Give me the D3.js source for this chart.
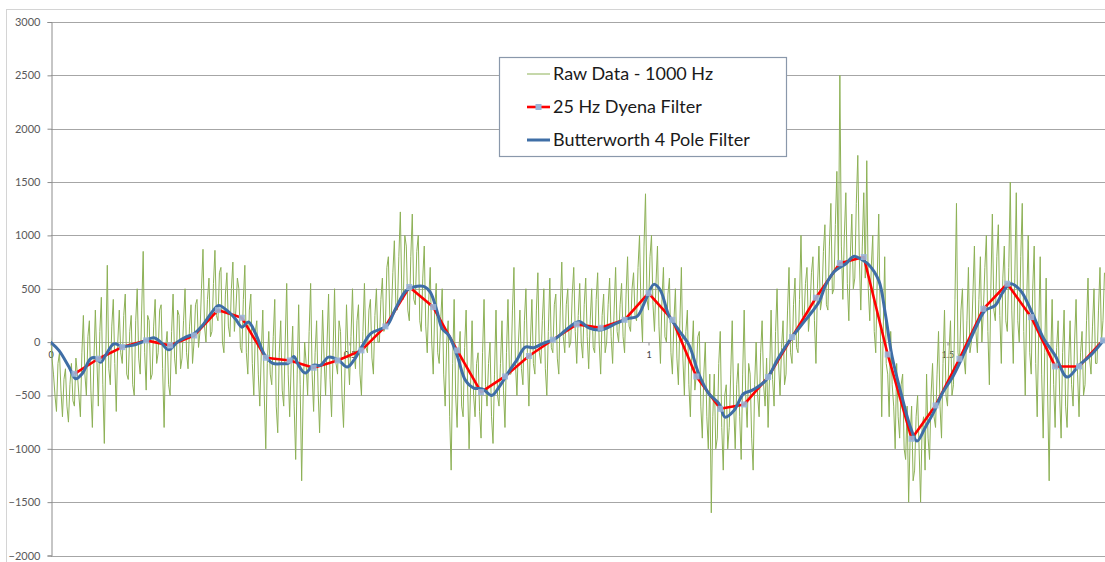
<!DOCTYPE html>
<html><head><meta charset="utf-8">
<script src="https://cdn.jsdelivr.net/npm/d3@7"></script>
<style>
html,body{margin:0;padding:0;background:#fff;}
svg{display:block;}
</style></head>
<body>
<svg id="chart" width="1105" height="562"></svg>
<script>
// ---- data ----
const yTicks = [-2000,-1500,-1000,-500,0,500,1000,1500,2000,2500,3000];
const xTicks = [0, 0.5, 1, 1.5];
const xTickLabels = ["0","0.5","1","1.5"];
const seriesNames = ["Raw Data - 1000 Hz","25 Hz Dyena Filter","Butterworth 4 Pole Filter"];

// raw samples, one every 2.5 ms starting at t = 0
const rawStep = 0.0025;
const rawValues = [
 50,-150,-300,-500,-650,-200,-100,-450,-700,-350,-250,-600,-750,-400,-200,-550,-600,-150,-300,-500,
 -700,-100,250,-300,-500,50,200,-450,-800,-200,300,-150,-600,100,420,-400,-950,-100,720,-250,
 -400,150,400,-200,-650,0,300,-100,-200,250,450,-300,-350,100,250,-400,-500,200,500,-150,
 -300,300,850,-100,-450,250,200,-350,-300,150,400,-200,-100,300,350,-250,-800,-50,100,-400,
 -500,100,450,-150,-300,300,250,-250,-150,200,500,-100,-250,150,350,-200,0,350,400,-50,
 100,500,870,150,0,400,600,50,100,550,860,250,200,650,700,0,-100,450,650,150,
 50,500,750,100,300,600,500,-50,-100,400,720,-100,-300,300,450,-200,-500,100,200,-300,
 -600,-100,300,-500,-1000,-200,100,-300,-400,50,400,-600,-850,-100,200,-450,-600,0,550,-300,
 -700,-200,150,-600,-1100,-300,350,-400,-1300,-500,0,-200,-500,100,550,-300,-650,-100,200,-450,
 -850,-300,300,-150,-500,0,450,-350,-700,-100,500,-200,-300,200,100,-500,-800,-250,350,-100,
 -400,50,500,-100,-250,200,350,-300,-500,100,550,-50,-100,300,400,-150,-300,250,500,0,
 0,400,600,100,150,700,800,200,250,650,950,350,300,800,1220,450,400,1000,900,300,
 200,800,1200,400,350,850,1000,200,100,600,900,150,-100,400,700,0,-300,300,550,-100,
 -200,200,500,-300,-600,0,200,-700,-1200,-200,400,-500,-800,-100,100,-600,-700,-50,300,-400,
 -1000,-400,200,-500,-700,-200,-100,-650,-900,-100,400,-400,-600,-200,0,-700,-950,-300,300,-500,
 -600,-200,200,-450,-800,-100,400,-300,-300,300,700,-200,-500,0,300,-250,-400,200,500,-100,
 -600,0,400,-200,-300,300,650,-100,-200,200,500,-250,-500,100,600,-50,-100,350,450,-150,
 -300,300,750,50,-100,350,500,-50,0,450,700,100,-200,250,550,0,-150,350,600,50,
 -250,200,500,-50,-100,400,650,0,-300,250,450,-100,0,350,600,50,-200,300,700,100,
 0,350,550,50,-100,450,800,150,100,500,650,250,200,700,1000,300,0,900,1390,400,
 300,800,1000,350,100,550,900,150,-200,400,700,50,0,450,600,-100,-300,200,500,-150,
 -400,200,700,-150,-500,100,300,-400,-700,-100,200,-450,-300,50,100,-600,-900,-300,0,-700,
 -1000,-300,-1600,-700,-300,-1000,-900,-200,100,-800,-1200,-500,-400,-1000,-800,-300,200,-600,-1000,-400,
 -200,-700,-1100,-300,300,-500,-800,-200,-300,-900,-1200,-400,0,-500,-700,-100,200,-400,-600,-150,
 -800,-300,300,-350,-600,100,500,-200,-500,-50,200,-400,-300,300,700,-100,-200,350,600,-50,
 -100,400,1000,250,200,550,700,100,300,650,800,200,-200,500,900,300,400,850,1100,350,
 300,900,1300,450,500,1100,1600,700,2500,900,400,1000,1400,550,200,800,1200,500,600,1300,
 1750,800,300,900,1400,600,1700,500,200,700,1000,100,-100,600,1200,200,-700,100,800,-200,
 -300,-700,100,-400,-600,-1000,-200,-700,-900,-400,-300,-1000,-1100,-600,-1500,-900,-600,-1300,-1200,-700,
 -500,-1000,-1500,-800,-700,-1200,-300,-900,-1100,-500,-200,-700,-800,-300,100,-600,-900,-200,300,-500,
 -600,-100,200,-500,-400,400,1300,-100,-200,300,500,-150,-300,200,700,-100,0,450,900,100,
 -100,400,800,0,300,700,1000,100,-400,500,1200,300,200,800,1100,250,-200,600,900,200,
 100,700,1500,300,-200,600,1400,200,0,800,1300,100,-500,400,1000,-100,-300,500,900,-200,
 -700,100,800,-300,-900,-100,600,-500,-1300,-200,400,-400,-800,-50,200,-500,-900,-100,300,-600,
 -800,-200,200,-400,-600,0,400,-300,-700,-100,100,-500,-400,200,600,-150,-300,150,500,-200,
 -200,300,700,0,200,650
];

const dyenaTimes = [0.04,0.08,0.12,0.16,0.20,0.24,0.28,0.32,0.36,0.40,0.44,0.48,0.52,0.56,0.60,0.64,0.68,0.72,0.76,0.80,0.84,0.88,0.92,0.96,1.00,1.04,1.08,1.12,1.16,1.20,1.24,1.28,1.32,1.36,1.40,1.44,1.48,1.52,1.56,1.60,1.64,1.68,1.72,1.76];
const dyenaValues = [-297,-156,-47,16,-31,62,300,228,-147,-172,-240,-172,-78,147,516,328,-78,-469,-322,-130,22,166,134,209,459,209,-322,-625,-584,-328,47,416,740,797,-116,-906,-594,-156,312,547,234,-228,-228,16];

const butterTimes = [0,0.014,0.031,0.042,0.053,0.067,0.075,0.084,0.092,0.106,0.12,0.137,0.153,0.173,0.184,0.198,0.212,0.226,0.24,0.254,0.27,0.281,0.295,0.309,0.32,0.331,0.343,0.357,0.371,0.387,0.398,0.407,0.415,0.426,0.44,0.451,0.465,0.482,0.496,0.507,0.521,0.535,0.549,0.563,0.577,0.594,0.607,0.624,0.635,0.646,0.655,0.666,0.68,0.694,0.708,0.722,0.738,0.75,0.766,0.78,0.794,0.808,0.822,0.844,0.861,0.884,0.9,0.922,0.945,0.964,0.981,0.995,1.009,1.02,1.034,1.051,1.068,1.084,1.101,1.118,1.128,1.143,1.159,1.173,1.196,1.218,1.24,1.262,1.285,1.296,1.31,1.321,1.33,1.343,1.357,1.368,1.385,1.396,1.407,1.424,1.438,1.449,1.463,1.477,1.491,1.51,1.53,1.549,1.563,1.58,1.591,1.605,1.622,1.641,1.661,1.68,1.7,1.72,1.742,1.761];
const butterValues = [0,-78,-234,-344,-297,-156,-147,-188,-125,-16,-40,-31,0,40,0,-72,0,47,78,156,281,344,297,219,140,188,78,-109,-197,-203,-197,-134,-219,-290,-215,-219,-141,-172,-234,-172,-40,78,116,156,313,478,516,522,469,297,125,63,-125,-359,-431,-438,-500,-422,-281,-166,-47,-53,-16,31,109,194,134,116,172,219,241,391,541,484,250,109,-31,-297,-484,-578,-703,-641,-484,-453,-359,-141,47,203,375,531,656,703,734,803,772,728,578,266,-125,-516,-797,-928,-797,-656,-484,-313,-78,156,297,344,453,547,484,281,31,-125,-328,-219,-109,16];

// ---- drawing ----
const svg = d3.select("#chart");
const W = 1105, H = 562;
const plotLeft = 51, plotTop = 22, plotBottom = 555.5;

// outer chart frame
svg.append("rect").attr("x",6.5).attr("y",9.5).attr("width",1110).attr("height",560)
  .attr("fill","#fff").attr("stroke","#d4d4d4").attr("stroke-width",1);

const x = d3.scaleLinear().domain([0,1]).range([50.5, 648.5]);
const y = d3.scaleLinear().domain([-2000,3000]).range([plotBottom, plotTop]);

svg.append("clipPath").attr("id","plotclip").append("rect")
  .attr("x",plotLeft).attr("y",0).attr("width",W - plotLeft + 10).attr("height",H);

// gridlines
const grid = svg.append("g");
grid.selectAll("line").data(yTicks).join("line")
  .attr("x1",plotLeft).attr("x2",W)
  .attr("y1",d=>Math.round(y(d))+0.5).attr("y2",d=>Math.round(y(d))+0.5)
  .attr("stroke","#a6a6a6").attr("stroke-width",1);

// y axis
const yAxis = d3.axisLeft(y).tickValues(yTicks).tickSize(4).tickPadding(7).tickFormat(d3.format("d"));
const yg = svg.append("g").attr("transform",`translate(${plotLeft+0.5},0)`).call(yAxis);
yg.select(".domain").attr("stroke","#8c8c8c");
yg.selectAll(".tick line").attr("stroke","#8c8c8c");
yg.selectAll(".tick text").attr("fill","#595959").style("font-family","Lato, 'Liberation Sans', sans-serif").style("font-size","11px");

// x axis along zero
const xAxis = d3.axisBottom(x).tickValues(xTicks).tickSize(3).tickPadding(6).tickFormat((d,i)=>xTickLabels[i]);
const xg = svg.append("g").attr("transform",`translate(0,${Math.round(y(0))+0.5})`).call(xAxis);
xg.select(".domain").remove();
xg.selectAll(".tick line").attr("stroke","#8c8c8c");
xg.selectAll(".tick text").attr("fill","#404040").style("font-family","Lato, 'Liberation Sans', sans-serif").style("font-size","9px");

const plot = svg.append("g").attr("clip-path","url(#plotclip)");

// raw data
const rawData = rawValues.map((v,i)=>[i*rawStep, v]);
plot.append("path").datum(rawData)
  .attr("fill","none").attr("stroke","#8db156").attr("stroke-width",1)
  .attr("stroke-linejoin","round")
  .attr("d", d3.line().x(d=>x(d[0])).y(d=>y(d[1])));

// Dyena filter
const dyenaData = dyenaTimes.map((t,i)=>[t, dyenaValues[i]]);
plot.append("path").datum(dyenaData)
  .attr("fill","none").attr("stroke","#ff0000").attr("stroke-width",2.6)
  .attr("stroke-linejoin","round")
  .attr("d", d3.line().x(d=>x(d[0])).y(d=>y(d[1])));

// Butterworth
const butterData = butterTimes.map((t,i)=>[t, butterValues[i]]);
plot.append("path").datum(butterData)
  .attr("fill","none").attr("stroke","#3f6ea6").attr("stroke-width",3)
  .attr("stroke-linejoin","round").attr("stroke-linecap","round")
  .attr("d", d3.line().curve(d3.curveCatmullRom.alpha(0.5)).x(d=>x(d[0])).y(d=>y(d[1])));

// Dyena markers
plot.selectAll("rect.mk").data(dyenaData).join("rect").attr("class","mk")
  .attr("x",d=>x(d[0])-3).attr("y",d=>y(d[1])-3).attr("width",6).attr("height",6)
  .attr("fill","#9ab5d8").attr("opacity",0.9);

// legend
const lg = svg.append("g");
lg.append("rect").attr("x",499.5).attr("y",57.5).attr("width",287).attr("height",99)
  .attr("fill","#fff").attr("stroke","#8a98ab").attr("stroke-width",1.2);
const rows = [74, 107, 140];
lg.append("line").attr("x1",527).attr("x2",550).attr("y1",rows[0]).attr("y2",rows[0])
  .attr("stroke","#8db156").attr("stroke-width",1);
lg.append("line").attr("x1",527).attr("x2",550).attr("y1",rows[1]).attr("y2",rows[1])
  .attr("stroke","#ff0000").attr("stroke-width",2.6);
lg.append("rect").attr("x",535.5).attr("y",rows[1]-3).attr("width",6).attr("height",6).attr("fill","#9ab5d8");
lg.append("line").attr("x1",527).attr("x2",550).attr("y1",rows[2]).attr("y2",rows[2])
  .attr("stroke","#3f6ea6").attr("stroke-width",3);
lg.selectAll("text").data(seriesNames).join("text")
  .attr("x",553).attr("y",(d,i)=>rows[i]).attr("dy","0.36em")
  .attr("fill","#1a1a1a").style("font-family","Lato, 'Liberation Sans', sans-serif").style("font-size","18px")
  .text(d=>d);
</script>
</body></html>
